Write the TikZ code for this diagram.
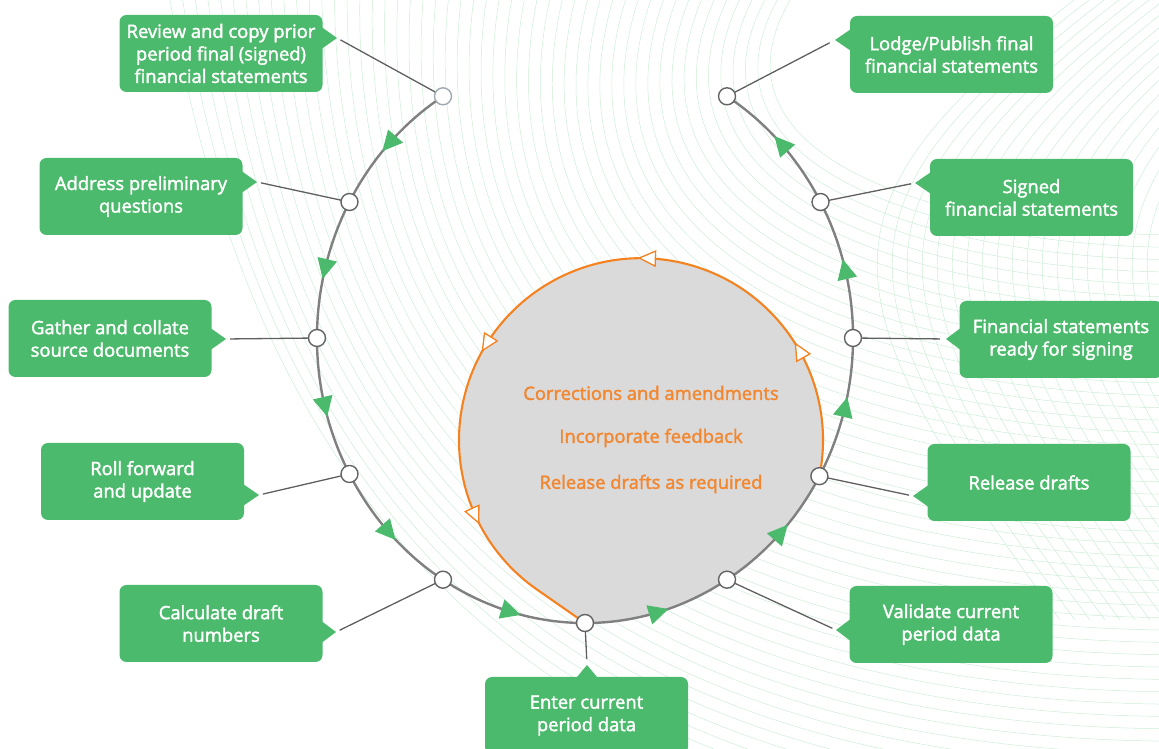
\documentclass[tikz,border=0pt]{standalone}
\usepackage{fontspec}
\setmainfont{Open Sans}
\newfontfamily\semib{Open Sans}[FakeBold=2]
\usetikzlibrary{calc}
\definecolor{bgreen}{RGB}{76,186,108}
\definecolor{pathgray}{RGB}{128,128,128}
\definecolor{lgray}{RGB}{95,95,95}
\definecolor{dotgray}{RGB}{100,100,100}
\definecolor{dotfirst}{RGB}{160,168,176}
\definecolor{orng}{RGB}{245,130,32}
\definecolor{otext}{RGB}{242,135,48}
\definecolor{cfill}{RGB}{218,218,218}
\definecolor{pat}{RGB}{206,237,215}
\newcommand\ptrH[3]{\fill[bgreen] ($(#1|-#2)+({#3*2},11.5)$) -- (#2) -- ($(#1|-#2)+({#3*2},-11.5)$) -- cycle;}
\begin{document}
\begin{tikzpicture}[x=1pt,y=1pt,
  box/.style={rectangle, rounded corners=7pt, fill=bgreen, text=white, minimum width=203pt, minimum height=77pt, align=center, font=\semib\fontsize{18.4}{22.5}\selectfont, inner sep=0pt},
  dot/.style={circle, draw=dotgray, fill=white, line width=1.4pt, minimum size=17pt, inner sep=0pt},
  conn/.style={draw=lgray, line width=1.3pt, shorten >=4pt},
  mainpath/.style={draw=pathgray, line width=2.4pt},
  orngline/.style={draw=orng, line width=2.1pt},
  otxt/.style={text=otext, font=\semib\fontsize{18.4}{21}\selectfont, inner sep=0pt},
  patline/.style={draw=pat, line width=0.5pt}]
\useasboundingbox (0,0) rectangle (1159,749);
% background pattern
\begin{scope}
\clip (0,0) rectangle (1159,749);
\foreach \i in {0,...,49}{
  \pgfmathsetmacro\t{\i/49}
  \pgfmathsetmacro\xo{170+620*\t}
  \pgfmathsetmacro\ye{749-(840-605*\t)}
  \pgfmathsetmacro\xa{\xo+(0.1-0.35*\t)*(1170-\xo)}
  \pgfmathsetmacro\ya{749-0.7*(840-605*\t)}
  \pgfmathsetmacro\xb{\xo+0.45*(1170-\xo)}
  \draw[patline] (\xo,749) .. controls (\xa,\ya) and (\xb,\ye) .. (1180,\ye);
}
\foreach \j in {0,...,20}{
  \pgfmathsetmacro\c{840+15*\j}
  \draw[patline] ({\c+260},769) .. controls ({\c-30},549) and ({\c-30},469) .. ({\c+220},129);
}
\end{scope}
% ellipse centre and nodes
\coordinate (E) at (585,411);
\foreach \a/\n in {122/1,151.5/2,180/3,208.5/4,238/5,270/6,302/7,331/8,360/9,388.5/10,418/11}{
  \coordinate (p\n) at ([shift={(\a:268pt and 285pt)}]E);
}
\coordinate (C) at ($(p8)-(-11.4:182pt)$);
% inner grey region
\fill[cfill] (p6) arc[start angle=270,end angle=331,x radius=268pt,y radius=285pt]
  arc[start angle=-11.4,end angle=235,radius=182pt] -- cycle;
% main path
\draw[mainpath] (p1) arc[start angle=122,end angle=418,x radius=268pt,y radius=285pt];
% orange loop
\draw[orngline] (p8) arc[start angle=-11.4,end angle=235,radius=182pt] -- (p6);
\foreach \a in {29.5,88,148,204.5}{
  \filldraw[fill=white,draw=orng,line width=1.3pt,shift={(C)},shift={(\a:182pt)},rotate=\a+90]
    (8pt,0) -- (-8pt,7.5pt) -- (-8pt,-7.5pt) -- cycle;
}
% green arrows
\foreach \t in {137,166,194,223,254,286,317,346,374,403}{
  \pgfmathsetmacro\ang{atan2(285*cos(\t),-268*sin(\t))}
  \fill[bgreen,shift={(E)},shift={(\t:268pt and 285pt)},rotate=\ang]
    (10pt,0) -- (-10pt,10pt) -- (-10pt,-10pt) -- cycle;
}
% boxes
\node[box] (rv) at (221,695.5) {Review and copy prior\\period final (signed)\\financial statements};
\node[box] (ap) at (141,552.5) {Address preliminary\\questions};
\node[box] (gc) at (110,410.5) {Gather and collate\\source documents};
\node[box] (rf) at (142.5,267.5) {Roll forward\\and update};
\node[box] (cd) at (221,125.5) {Calculate draft\\numbers};
\node[box] (ec) at (586.5,33.5) {Enter current\\period data};
\node[box] (vc) at (951,124.5) {Validate current\\period data};
\node[box] (rd) at (1029,266.5) {Release drafts};
\node[box] (fr) at (1061,409.5) {Financial statements\\ready for signing};
\node[box] (sg) at (1031.5,551.5) {Signed\\financial statements};
\node[box] (lp) at (951.5,694.5) {Lodge/Publish final\\financial statements};
% pointer tips
\coordinate (rvT) at (337,711);
\coordinate (apT) at (257,567);
\coordinate (gcT) at (226,410);
\coordinate (rfT) at (259,254);
\coordinate (cdT) at (336,117);
\coordinate (ecT) at (587,84);
\coordinate (vcT) at (836,119);
\coordinate (rdT) at (913,253);
\coordinate (frT) at (946,410);
\coordinate (sgT) at (915,566);
\coordinate (lpT) at (835,709);
\ptrH{rv.east}{rvT}{-1}
\ptrH{ap.east}{apT}{-1}
\ptrH{gc.east}{gcT}{-1}
\ptrH{rf.east}{rfT}{-1}
\ptrH{cd.east}{cdT}{-1}
\ptrH{vc.west}{vcT}{1}
\ptrH{rd.west}{rdT}{1}
\ptrH{fr.west}{frT}{1}
\ptrH{sg.west}{sgT}{1}
\ptrH{lp.west}{lpT}{1}
\fill[bgreen] ($(ec.north-|ecT)+(-11.5,-2)$) -- (ecT) -- ($(ec.north-|ecT)+(11.5,-2)$) -- cycle;
% connectors
\draw[conn] (p1) -- (rvT);
\draw[conn] (p2) -- (apT);
\draw[conn] (p3) -- (gcT);
\draw[conn] (p4) -- (rfT);
\draw[conn] (p5) -- (cdT);
\draw[conn,shorten >=6pt] (p6) -- (ecT);
\draw[conn] (p7) -- (vcT);
\draw[conn] (p8) -- (rdT);
\draw[conn,shorten >=6pt] (p9) -- (frT);
\draw[conn] (p10) -- (sgT);
\draw[conn,shorten >=6pt] (p11) -- (lpT);
% node circles
\node[dot,draw=dotfirst] (n1) at (p1) {};
\foreach \n in {2,...,11}{ \node[dot] (n\n) at (p\n) {}; }
% inner texts
\node[otxt] (t1) at (651,356) {Corrections and amendments};
\node[otxt] (t2) at (651,311) {Incorporate feedback};
\node[otxt] (t3) at (651,265) {Release drafts as required};
\end{tikzpicture}
\end{document}
